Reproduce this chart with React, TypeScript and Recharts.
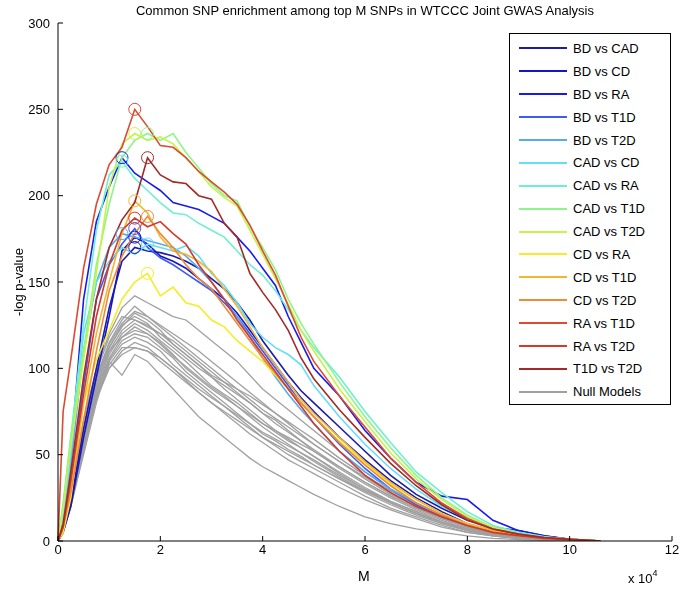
import React from "react";
import { LineChart, Line, XAxis, YAxis } from "recharts";

// M sampled in SNP counts (axis shows x 10^4)
const M_VALUES = [
  0, 1000, 2500, 5000, 7500, 10000, 12500, 15000, 17500, 20000, 22500, 25000,
  27500, 30000, 32500, 35000, 37500, 40000, 42500, 45000, 47500, 50000, 55000,
  60000, 65000, 70000, 75000, 80000, 85000, 90000, 95000, 100000, 103000, 106000,
];

const PAIR_NAMES = [
  "BD vs CAD", "BD vs CD", "BD vs RA", "BD vs T1D", "BD vs T2D",
  "CAD vs CD", "CAD vs RA", "CAD vs T1D", "CAD vs T2D", "CD vs RA",
  "CD vs T1D", "CD vs T2D", "RA vs T1D", "RA vs T2D", "T1D vs T2D",
];

const PAIR_COLORS = [
  "#1c1ca6", "#1515c8", "#1a1aee", "#3a5cf0", "#55aaf2",
  "#66ddf6", "#6ef0d0", "#8ef58a", "#c6f24c", "#f5ec2a",
  "#f2b630", "#ee8a3a", "#dc4a30", "#d23a2c", "#a32a26",
];

const BD_CAD = [0, 6, 22, 65, 100, 135, 162, 170, 168, 167, 165, 162, 158, 152, 146, 138, 128, 116, 106, 96, 87, 80, 66, 52, 38, 27, 19, 12, 8, 6, 3, 1, 0.5, 0];
const BD_CD = [0, 5, 20, 60, 95, 130, 168, 176, 172, 165, 162, 158, 152, 146, 140, 132, 122, 112, 102, 92, 83, 75, 60, 47, 35, 25, 17, 10, 6, 3.5, 1.5, 0.7, 0.3, 0];
const BD_RA = [0, 18, 50, 140, 185, 205, 222, 213, 208, 203, 196, 194, 192, 188, 184, 176, 168, 158, 148, 130, 115, 100, 84, 64, 48, 34, 26, 24, 12, 6, 3, 1, 0.5, 0];
const BD_T1D = [0, 10, 35, 90, 140, 160, 172, 181, 170, 164, 160, 155, 150, 145, 138, 130, 120, 110, 100, 90, 80, 72, 56, 42, 30, 21, 14, 9, 5, 3, 1.5, 0.7, 0.3, 0];
const BD_T2D = [0, 12, 45, 110, 150, 170, 178, 176, 174, 172, 170, 165, 158, 150, 140, 130, 118, 106, 95, 85, 76, 68, 52, 40, 30, 22, 15, 9, 5, 3, 1.5, 0.7, 0.3, 0];
const CAD_CD = [0, 14, 50, 120, 150, 162, 170, 166, 172, 170, 168, 171, 165, 155, 148, 138, 126, 118, 112, 108, 102, 90, 72, 56, 42, 30, 20, 13, 8, 5, 2.5, 1, 0.5, 0];
const CAD_RA = [0, 22, 60, 125, 180, 212, 220, 210, 203, 196, 190, 189, 184, 180, 176, 168, 160, 154, 145, 134, 122, 112, 95, 75, 57, 40, 28, 17, 9, 5, 2.5, 1, 0.5, 0];
const CAD_T1D = [0, 20, 60, 110, 160, 195, 222, 232, 236, 232, 236, 225, 216, 207, 200, 197, 182, 170, 157, 140, 126, 114, 92, 72, 54, 38, 25, 15, 8, 4, 2, 1, 0.5, 0];
const CAD_T2D = [0, 18, 55, 105, 155, 205, 230, 236, 232, 234, 230, 222, 214, 205, 199, 194, 180, 166, 152, 137, 122, 110, 88, 69, 51, 36, 24, 14, 8, 4, 2, 1, 0.5, 0];
const CD_RA = [0, 5, 25, 80, 105, 122, 140, 150, 155, 142, 147, 138, 136, 128, 124, 116, 110, 104, 96, 88, 80, 72, 58, 45, 33, 24, 16, 10, 6, 3, 1.5, 0.7, 0.3, 0];
const CD_T1D = [0, 8, 30, 80, 120, 150, 178, 197, 190, 176, 168, 166, 162, 156, 146, 136, 124, 112, 102, 92, 82, 74, 60, 46, 34, 24, 16, 10, 6, 3, 1.5, 0.8, 0.4, 0];
const CD_T2D = [0, 8, 28, 70, 110, 145, 165, 178, 188, 178, 170, 160, 152, 146, 136, 126, 116, 106, 97, 88, 80, 72, 57, 44, 32, 22, 15, 9, 5, 3, 1.5, 0.7, 0.3, 0];
const RA_T1D = [0, 75, 105, 158, 195, 218, 228, 250, 240, 229, 228, 222, 214, 208, 202, 195, 183, 168, 154, 136, 118, 104, 84, 66, 48, 34, 22, 13, 7, 4, 2, 1, 0.5, 0];
const RA_T2D = [0, 8, 35, 85, 130, 160, 180, 187, 182, 185, 178, 172, 160, 150, 140, 128, 118, 108, 98, 88, 78, 68, 52, 38, 28, 20, 14, 9, 5, 3, 1.5, 0.8, 0.3, 0];
const T1D_T2D = [0, 10, 40, 95, 140, 170, 186, 196, 222, 212, 208, 207, 200, 198, 184, 176, 155, 144, 134, 122, 106, 94, 76, 60, 45, 32, 21, 12, 7, 4, 2, 1, 0.5, 0];

const PAIRS = [
  BD_CAD, BD_CD, BD_RA, BD_T1D, BD_T2D, CAD_CD, CAD_RA, CAD_T1D, CAD_T2D,
  CD_RA, CD_T1D, CD_T2D, RA_T1D, RA_T2D, T1D_T2D,
];

// null model curves
const NULL_1 = [0, 8, 30, 70, 100, 120, 135, 142, 138, 134, 130, 128, 122, 116, 110, 104, 96, 88, 82, 76, 70, 64, 52, 40, 30, 22, 15, 9, 5, 3, 1.5, 0.7, 0.3, 0];
const NULL_2 = [0, 7, 28, 65, 95, 115, 128, 136, 130, 125, 120, 115, 110, 104, 98, 92, 86, 80, 74, 68, 62, 56, 46, 36, 27, 20, 13, 8, 5, 2.5, 1.2, 0.5, 0.2, 0];
const NULL_3 = [0, 6, 25, 60, 92, 112, 125, 130, 126, 118, 112, 106, 100, 95, 90, 85, 80, 74, 68, 63, 58, 53, 43, 34, 26, 19, 13, 8, 4, 2, 1, 0.5, 0.2, 0];
const NULL_4 = [0, 8, 30, 66, 98, 118, 130, 128, 124, 120, 116, 110, 104, 98, 92, 86, 80, 74, 70, 64, 58, 52, 42, 33, 25, 18, 12, 7, 4, 2, 1, 0.4, 0.2, 0];
const NULL_5 = [0, 6, 24, 58, 88, 108, 120, 126, 122, 116, 110, 104, 97, 90, 85, 80, 74, 68, 63, 58, 54, 49, 40, 31, 23, 17, 11, 7, 4, 2, 1, 0.4, 0.2, 0];
const NULL_6 = [0, 7, 26, 62, 90, 110, 118, 122, 120, 115, 108, 100, 94, 88, 83, 78, 72, 66, 61, 56, 51, 46, 37, 29, 22, 16, 11, 6, 3.5, 2, 0.8, 0.3, 0.1, 0];
const NULL_7 = [0, 5, 22, 55, 85, 105, 116, 120, 118, 112, 106, 98, 92, 86, 80, 74, 68, 62, 58, 53, 49, 44, 36, 28, 21, 15, 10, 6, 3, 1.5, 0.7, 0.3, 0.1, 0];
const NULL_8 = [0, 6, 24, 58, 86, 104, 114, 118, 115, 110, 102, 96, 90, 84, 78, 72, 66, 60, 55, 50, 46, 42, 34, 26, 19, 14, 9, 5, 3, 1.5, 0.6, 0.3, 0.1, 0];
const NULL_9 = [0, 5, 20, 52, 82, 100, 110, 115, 112, 106, 100, 93, 86, 80, 74, 68, 62, 57, 52, 47, 43, 39, 31, 24, 18, 13, 8, 5, 3, 1.4, 0.6, 0.2, 0.1, 0];
const NULL_10 = [0, 5, 20, 50, 80, 104, 96, 108, 104, 96, 88, 80, 72, 66, 60, 54, 48, 43, 39, 35, 31, 27, 20, 14, 10, 7, 5, 3, 1.5, 0.8, 0.4, 0.2, 0.1, 0];
const NULL_11 = [0, 6, 25, 60, 90, 110, 122, 128, 125, 120, 114, 108, 102, 96, 92, 88, 84, 79, 74, 69, 64, 59, 48, 38, 29, 21, 14, 9, 5, 2.5, 1.2, 0.5, 0.2, 0];
const NULL_12 = [0, 7, 27, 63, 94, 112, 124, 132, 128, 122, 114, 108, 102, 95, 88, 82, 76, 70, 64, 59, 54, 49, 39, 30, 22, 16, 10, 6, 3.5, 1.8, 0.8, 0.3, 0.1, 0];
const NULL_13 = [0, 6, 23, 56, 84, 102, 112, 112, 110, 104, 98, 92, 86, 80, 75, 70, 65, 60, 56, 52, 48, 44, 36, 29, 22, 16, 11, 7, 4, 2, 1, 0.4, 0.1, 0];
const NULL_14 = [0, 7, 28, 64, 95, 114, 126, 133, 130, 124, 118, 112, 106, 100, 94, 88, 82, 76, 71, 66, 61, 56, 46, 37, 28, 20, 14, 9, 5, 2.5, 1.2, 0.5, 0.2, 0];
const NULL_15 = [0, 6, 24, 57, 87, 106, 118, 124, 120, 114, 107, 101, 95, 89, 84, 78, 73, 68, 64, 60, 56, 52, 43, 34, 26, 19, 13, 8, 4.5, 2.3, 1, 0.4, 0.2, 0];
const NULL_16 = [0, 5, 21, 53, 83, 100, 108, 112, 110, 106, 100, 94, 88, 83, 78, 73, 68, 63, 59, 55, 51, 47, 38, 30, 23, 17, 11, 7, 4, 2, 0.9, 0.4, 0.1, 0];

const NULLS = [
  NULL_1, NULL_2, NULL_3, NULL_4, NULL_5, NULL_6, NULL_7, NULL_8,
  NULL_9, NULL_10, NULL_11, NULL_12, NULL_13, NULL_14, NULL_15, NULL_16,
];

const X_TICKS = [0, 20000, 40000, 60000, 80000, 100000, 120000];
const Y_TICKS = [0, 50, 100, 150, 200, 250, 300];

const NULL_COLOR = "#a0a0a0";
const FONT = "'Liberation Sans', Arial, sans-serif";

const data = M_VALUES.map((m, i) => {
  const row: Record<string, number> = { m };
  PAIRS.forEach((s, k) => (row["p" + k] = s[i]));
  NULLS.forEach((s, k) => (row["n" + k] = s[i]));
  return row;
});

function peakIndex(arr: number[]) {
  let best = 0;
  arr.forEach((v, i) => {
    if (v > arr[best]) best = i;
  });
  return best;
}

function LegendBox() {
  const items = [
    ...PAIR_NAMES.map((n, i) => ({ n, c: PAIR_COLORS[i] })),
    { n: "Null Models", c: NULL_COLOR },
  ];
  return (
    <div
      style={{
        position: "absolute",
        left: 509,
        top: 33,
        width: 162,
        height: 372,
        border: "1px solid #000",
        background: "#fff",
        boxSizing: "border-box",
        paddingTop: 3,
        fontFamily: FONT,
        fontSize: 13,
      }}
    >
      {items.map((it) => (
        <div key={it.n} style={{ height: 22.9, display: "flex", alignItems: "center" }}>
          <div style={{ width: 48, height: 0, borderTop: `2px solid ${it.c}`, marginLeft: 9, marginRight: 6 }} />
          <span style={{ color: "#000" }}>{it.n}</span>
        </div>
      ))}
    </div>
  );
}

export default function App() {
  const tickStyle = { fontSize: 13, fill: "#000", fontFamily: FONT };
  return (
    <div style={{ position: "fixed", left: 0, top: 0, width: 682, height: 594, background: "#fff", fontFamily: FONT }}>
      <div style={{ position: "absolute", left: 0, width: 730, top: 3, textAlign: "center", fontSize: 13 }}>
        Common SNP enrichment among top M SNPs in WTCCC Joint GWAS Analysis
      </div>
      <LineChart width={682} height={594} data={data} margin={{ top: 23, right: 10, bottom: 23, left: 0 }}>
        <XAxis
          dataKey="m"
          type="number"
          domain={[0, 120000]}
          ticks={X_TICKS}
          tickFormatter={(v: number) => String(v / 10000)}
          axisLine={{ stroke: "#000" }}
          tickLine={{ stroke: "#000" }}
          tickSize={-5}
          tickMargin={9}
          tick={tickStyle}
          height={30}
        />
        <YAxis
          type="number"
          domain={[0, 300]}
          ticks={Y_TICKS}
          allowDataOverflow
          axisLine={{ stroke: "#000" }}
          tickLine={{ stroke: "#000" }}
          tickSize={-5}
          tickMargin={13}
          tick={tickStyle}
          width={58}
        />
        {NULLS.map((_, k) => (
          <Line
            key={"n" + k}
            dataKey={"n" + k}
            stroke={NULL_COLOR}
            strokeWidth={1.3}
            dot={false}
            type="linear"
            isAnimationActive={false}
          />
        ))}
        {PAIRS.map((series, k) => {
          const pk = peakIndex(series);
          const color = PAIR_COLORS[k];
          return (
            <Line
              key={"p" + k}
              dataKey={"p" + k}
              stroke={color}
              strokeWidth={1.6}
              type="linear"
              isAnimationActive={false}
              dot={(props: any) =>
                props.index === pk ? (
                  <circle key={"d" + k} cx={props.cx} cy={props.cy} r={6} fill="none" stroke={color} strokeWidth={1} />
                ) : (
                  <g key={"d" + k + "-" + props.index} />
                )
              }
            />
          );
        })}
      </LineChart>
      <LegendBox />
      <div style={{ position: "absolute", left: 358, top: 568, fontSize: 14 }}>M</div>
      <div
        style={{
          position: "absolute",
          left: 18,
          top: 282,
          transform: "translate(-50%, -50%) rotate(-90deg)",
          whiteSpace: "nowrap",
          fontSize: 13,
        }}
      >
        -log p-value
      </div>
      <div style={{ position: "absolute", left: 628, top: 570, fontSize: 13 }}>
        x 10<sup style={{ fontSize: 9, position: "relative", top: -2 }}>4</sup>
      </div>
    </div>
  );
}
